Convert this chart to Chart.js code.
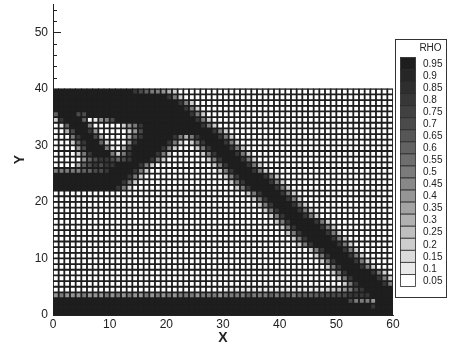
<!DOCTYPE html>
<html>
<head>
<meta charset="utf-8">
<script src="https://cdn.jsdelivr.net/npm/chart.js@4/dist/chart.umd.min.js"></script>
<style>
  html, body { margin: 0; padding: 0; background: #fff; }
  #wrap { width: 453px; height: 351px; }
</style>
</head>
<body>
<div id="wrap"><canvas id="c" width="453" height="351"></canvas></div>
<script>
// Element densities RHO on the 60 x 40 mesh, top row (y 39..40) first.
// Each row is 6 groups of 10 elements; '.' = 0, '1'..'9' = 0.1..0.9, '#' = 1.
const rhoRows = [
  "##########|####876554|32........|..........|..........|..........",
  "##########|##########|852.......|..........|..........|..........",
  "##########|##########|##852.....|..........|..........|..........",
  "##########|##########|###852....|..........|..........|..........",
  "6###77####|##########|####852...|..........|..........|..........",
  "28###6.145|7#########|#####852..|..........|..........|..........",
  ".16###5...|..2458####|######852.|..........|..........|..........",
  "..37##84..|...247####|########85|2.........|..........|..........",
  "...58##73.|...368####|#85358###8|52........|..........|..........",
  "...268##62|...48#####|852.258###|852.......|..........|..........",
  "....47###5|1.37#####8|52...258##|#852......|..........|..........",
  "....258###|5258####85|2.....258#|##852.....|..........|..........",
  ".....46788|7678###852|.......258|###852....|..........|..........",
  "....367878|8####852..|........25|8###852...|..........|..........",
  "5555566778|####852...|.........2|58###852..|..........|..........",
  "##########|###852....|..........|258####852|..........|..........",
  "##########|##852.....|..........|.258####85|2.........|..........",
  "##########|#852......|..........|..258####8|52........|..........",
  "..........|..........|..........|....258###|852.......|..........",
  "..........|..........|..........|.....258##|#852......|..........",
  "..........|..........|..........|......258#|##852.....|..........",
  "..........|..........|..........|.......258|###852....|..........",
  "..........|..........|..........|........25|8###852...|..........",
  "..........|..........|..........|.........2|58####852.|..........",
  "..........|..........|..........|..........|258####852|..........",
  "..........|..........|..........|..........|.258####85|2.........",
  "..........|..........|..........|..........|..258####8|52........",
  "..........|..........|..........|..........|...258####|852.......",
  "..........|..........|..........|..........|.....258##|#852......",
  "..........|..........|..........|..........|......258#|##852.....",
  "..........|..........|..........|..........|.......258|###852....",
  "..........|..........|..........|..........|........25|8###852...",
  "..........|..........|..........|..........|.........2|58####852.",
  "..........|..........|..........|..........|..........|258####852",
  "..........|..........|..........|..........|..........|.258####85",
  "..........|..........|..........|1111111111|1111111122|34578#####",
  "4544454445|4545445454|5455545554|5555655565|6656666777|778888####",
  "##########|##########|##########|##########|##########|##75554###",
  "##########|##########|##########|##########|##########|######8###",
  "##########|##########|##########|##########|##########|##########"
];

const xTicks = [0, 10, 20, 30, 40, 50, 60];
const yTicks = [0, 10, 20, 30, 40, 50];

// Contour legend: levels and their flood colours (lowest first)
const legendLabels = ["0.05","0.1","0.15","0.2","0.25","0.3","0.35","0.4","0.45","0.5",
                      "0.55","0.6","0.65","0.7","0.75","0.8","0.85","0.9","0.95"];
const legendColors = ["#ffffff","#e9e9e9","#dbdbdb","#cdcdcd","#bfbfbf","#b1b1b1","#a3a3a3",
                      "#959595","#888888","#7b7b7b","#6e6e6e","#626262","#565656","#4b4b4b",
                      "#414141","#373737","#2e2e2e","#262626","#1e1e1e"];

function charToRho(ch) {
  if (ch === '.') return 0;
  if (ch === '#') return 1;
  return Number(ch) / 10;
}
function rhoColor(v) {
  let k = Math.round(v / 0.05) - 1;
  k = Math.max(0, Math.min(legendColors.length - 1, k));
  return legendColors[k];
}

const nRows = rhoRows.length;
const rho = rhoRows.map(r => r.replace(/\|/g, '').split('').map(charToRho));

// one floating-bar dataset per mesh row, one bar per element
const datasets = rho.map((row, idx) => {
  const j = nRows - 1 - idx;
  return {
    data: row.map((v, i) => ({ x: i + 0.5, y: [j, j + 1], rho: v })),
    backgroundColor: row.map(rhoColor),
    borderColor: '#1e1e1e',
    borderWidth: 1.5,
    borderSkipped: false,
    inflateAmount: 0.6,
    grouped: false,
    barPercentage: 1,
    categoryPercentage: 1
  };
});

const FONT = '"Liberation Sans", Arial, Helvetica, sans-serif';
const TXT = '#222';

// inward tick marks on the Y axis (major every 10, minor every 2)
const inwardTicks = {
  id: 'inwardTicks',
  beforeDatasetsDraw(chart) {
    const { ctx, chartArea, scales: { y } } = chart;
    ctx.save();
    ctx.strokeStyle = TXT;
    ctx.lineWidth = 1;
    y.ticks.forEach(t => {
      const py = Math.round(y.getPixelForValue(t.value)) + 0.5;
      const len = yTicks.includes(t.value) ? 8 : 4;
      ctx.beginPath();
      ctx.moveTo(chartArea.left, py);
      ctx.lineTo(chartArea.left + len, py);
      ctx.stroke();
    });
    ctx.restore();
  }
};

// RHO contour-level legend box at the right
const rhoLegend = {
  id: 'rhoLegend',
  afterDraw(chart) {
    const ctx = chart.ctx;
    ctx.save();
    ctx.strokeStyle = '#333';
    ctx.lineWidth = 1;
    ctx.strokeRect(395.5, 39.5, 51, 258);
    ctx.fillStyle = TXT;
    ctx.font = '10px ' + FONT;
    ctx.textAlign = 'center';
    ctx.textBaseline = 'middle';
    ctx.fillText('RHO', 430.5, 48);
    const top = 57.5, sh = 12.05, n = legendLabels.length;
    ctx.textAlign = 'left';
    for (let k = 0; k < n; k++) {
      const lvl = n - 1 - k;
      const y0 = top + k * sh;
      ctx.fillStyle = legendColors[lvl];
      ctx.fillRect(400.5, y0, 15, sh);
      ctx.strokeStyle = '#2a2a2a';
      ctx.lineWidth = 0.8;
      ctx.strokeRect(400.5, y0, 15, sh);
      ctx.fillStyle = TXT;
      ctx.fillText(legendLabels[lvl], 423, y0 + sh / 2 + 0.5);
    }
    ctx.restore();
  }
};

new Chart(document.getElementById('c'), {
  type: 'bar',
  data: { datasets },
  options: {
    responsive: false,
    animation: false,
    events: [],
    devicePixelRatio: 1,
    layout: { autoPadding: false, padding: { top: 4, right: 60, left: 0, bottom: 0 } },
    plugins: { legend: { display: false }, tooltip: { enabled: false } },
    scales: {
      x: {
        type: 'linear',
        min: 0, max: 60,
        offset: false,
        grid: { display: false, drawTicks: false },
        border: { display: true, color: TXT, width: 1 },
        ticks: {
          stepSize: 10,
          autoSkip: false,
          maxRotation: 0,
          padding: 2,
          color: TXT,
          font: { family: FONT, size: 12 },
          callback: v => (xTicks.includes(v) ? String(v) : '')
        },
        title: { display: true, text: 'X', color: TXT, padding: { top: 0, bottom: 4 },
                 font: { family: FONT, size: 14, weight: 'bold' } },
        afterFit: s => { s.height = 36; s.paddingLeft = 0; s.paddingRight = 0; }
      },
      y: {
        type: 'linear',
        min: 0, max: 55,
        grid: { display: false, drawTicks: false },
        border: { display: true, color: TXT, width: 1 },
        ticks: {
          stepSize: 2,
          includeBounds: false,
          autoSkip: false,
          padding: 5,
          color: TXT,
          font: { family: FONT, size: 12 },
          callback: v => (yTicks.includes(v) ? String(v) : '')
        },
        title: { display: true, text: 'Y', color: TXT, padding: { top: 12, bottom: 0 },
                 font: { family: FONT, size: 14, weight: 'bold' } },
        afterFit: s => { s.width = 53; s.paddingTop = 0; s.paddingBottom = 0; }
      }
    }
  },
  plugins: [inwardTicks, rhoLegend]
});
</script>
</body>
</html>
